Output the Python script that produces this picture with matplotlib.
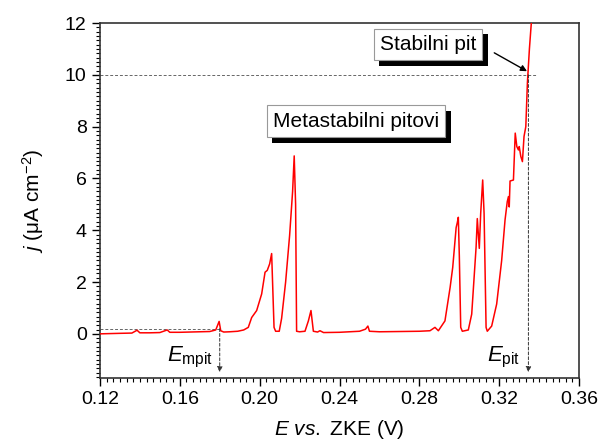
import matplotlib
matplotlib.use("Agg")
import matplotlib.pyplot as plt
import matplotlib.patheffects as pe
from matplotlib.ticker import MultipleLocator, AutoMinorLocator

plt.rcParams['font.family'] = ['Liberation Sans', 'DejaVu Sans']
plt.rcParams['mathtext.fontset'] = 'custom'
plt.rcParams['mathtext.rm'] = 'Liberation Sans'
plt.rcParams['mathtext.it'] = 'Liberation Sans:italic'

# potencijal (V vs. ZKE) i gustoca struje (uA cm-2)
E = [0.120, 0.125, 0.130, 0.136, 0.1386, 0.140, 0.145, 0.150, 0.1537, 0.155,
     0.160, 0.165, 0.170, 0.175, 0.178, 0.1797, 0.1805, 0.182, 0.185, 0.189,
     0.192, 0.1943, 0.1960, 0.1985, 0.2010, 0.2027, 0.2038, 0.2050, 0.2060, 0.2072,
     0.2080, 0.2098, 0.2110, 0.2130, 0.2150, 0.2165, 0.2173, 0.2180, 0.2185, 0.2200,
     0.2227, 0.2244, 0.2257, 0.2269, 0.2290, 0.2302, 0.2320, 0.2400, 0.2500, 0.2530,
     0.2542, 0.2550, 0.2600, 0.2700, 0.2800, 0.2853, 0.2878, 0.2895, 0.2928, 0.2954,
     0.2967, 0.2984, 0.2990, 0.2995, 0.3000, 0.3007, 0.3015, 0.3045, 0.3062, 0.3084,
     0.3090, 0.3100, 0.3107, 0.3117, 0.3124, 0.3134, 0.3140, 0.3162, 0.3187, 0.3212,
     0.3229, 0.3240, 0.3246, 0.3250, 0.3254, 0.3271, 0.3280, 0.3288, 0.3296, 0.3300,
     0.3308, 0.3316, 0.3324, 0.3333, 0.3341, 0.3351, 0.3361, 0.3370]
j = [0.00, 0.01, 0.02, 0.03, 0.14, 0.04, 0.04, 0.05, 0.15, 0.06,
     0.06, 0.07, 0.08, 0.09, 0.15, 0.48, 0.12, 0.07, 0.08, 0.10,
     0.15, 0.25, 0.63, 0.90, 1.54, 2.38, 2.45, 2.70, 3.10, 0.25,
     0.10, 0.10, 0.60, 2.00, 3.80, 5.50, 6.87, 5.00, 0.10, 0.08,
     0.10, 0.50, 0.90, 0.10, 0.07, 0.12, 0.05, 0.06, 0.10, 0.18,
     0.30, 0.10, 0.08, 0.09, 0.10, 0.12, 0.25, 0.12, 0.50, 1.80,
     2.57, 4.10, 4.30, 4.50, 3.00, 0.25, 0.10, 0.15, 0.76, 3.35,
     4.45, 3.30, 4.65, 5.94, 4.65, 0.25, 0.10, 0.30, 1.15, 2.83,
     4.40, 5.10, 5.30, 4.90, 5.90, 5.94, 7.75, 7.23, 7.10, 7.23,
     6.85, 6.65, 7.62, 8.00, 9.70, 11.00, 12.05, 13.00]

E_mpit = 0.18
j_mpit = 0.2
E_pit = 0.3346
j_pit = 10

fig = plt.figure(figsize=(6.02, 4.43), dpi=100)
ax = fig.add_axes([0.166, 0.147, 0.796, 0.801])

ax.plot(E, j, color='#ff0000', lw=1.1, zorder=3)

# isprekidane linije
ax.plot([0.12, E_mpit], [j_mpit, j_mpit], ls=(0, (3, 2)), color='#666666', lw=0.7)
ax.plot([0.12, 0.339], [j_pit, j_pit], ls=(0, (3, 2)), color='#666666', lw=0.7)
ax.annotate('', xy=(E_mpit, -1.48), xytext=(E_mpit, j_mpit),
            arrowprops=dict(arrowstyle='-|>', ls=(0, (3, 2)), color='#333333', lw=0.7,
                            mutation_scale=8, shrinkA=0, shrinkB=0))
ax.annotate('', xy=(E_pit, -1.48), xytext=(E_pit, j_pit),
            arrowprops=dict(arrowstyle='-|>', ls=(0, (3, 2)), color='#333333', lw=0.7,
                            mutation_scale=8, shrinkA=0, shrinkB=0))

ax.text(0.1765, -1.05, r'$E_{\mathrm{mpit}}$', fontsize=16, ha='right', va='baseline')
ax.text(0.3304, -1.05, r'$E_{\mathrm{pit}}$', fontsize=16, ha='right', va='baseline')


def box_text(x, y, s):
    t = ax.text(x, y, s, fontsize=15, ha='center', va='center', zorder=5,
                bbox=dict(boxstyle='square,pad=0.3', fc='white', ec='#999999', lw=0.8))
    t.get_bbox_patch().set_path_effects([
        pe.SimplePatchShadow(offset=(4, -4), shadow_rgbFace='black', alpha=1.0),
        pe.Normal()])
    return t


box_text(0.2843, 11.17, 'Stabilni pit')
box_text(0.2483, 8.21, 'Metastabilni pitovi')

ax.annotate('', xy=(0.3339, 10.14), xytext=(0.3175, 10.85),
            arrowprops=dict(arrowstyle='-|>', color='black', lw=1.0,
                            mutation_scale=9, shrinkA=0, shrinkB=0))

ax.set_xlim(0.12, 0.36)
ax.set_ylim(-1.7, 12)
ax.set_xticks([0.12, 0.16, 0.20, 0.24, 0.28, 0.32, 0.36])
ax.set_xticklabels(['0.12', '0.16', '0.20', '0.24', '0.28', '0.32', '0.36'])
ax.xaxis.set_minor_locator(AutoMinorLocator(12))
ax.yaxis.set_major_locator(MultipleLocator(2))
ax.yaxis.set_minor_locator(AutoMinorLocator(12))
ax.tick_params(which='major', direction='out', length=6, width=1, labelsize=14)
ax.tick_params(which='minor', direction='out', length=3, width=0.8)
for sp in ax.spines.values():
    sp.set_linewidth(1.2)
    sp.set_color('#333333')

ax.set_xlabel(r'$E$ $vs.$ ZKE (V)', fontsize=15, labelpad=7)
ax.set_ylabel(r'$j$ (μA cm$^{-2}$)', fontsize=15, labelpad=14)

fig.savefig('out.png', dpi=100)
